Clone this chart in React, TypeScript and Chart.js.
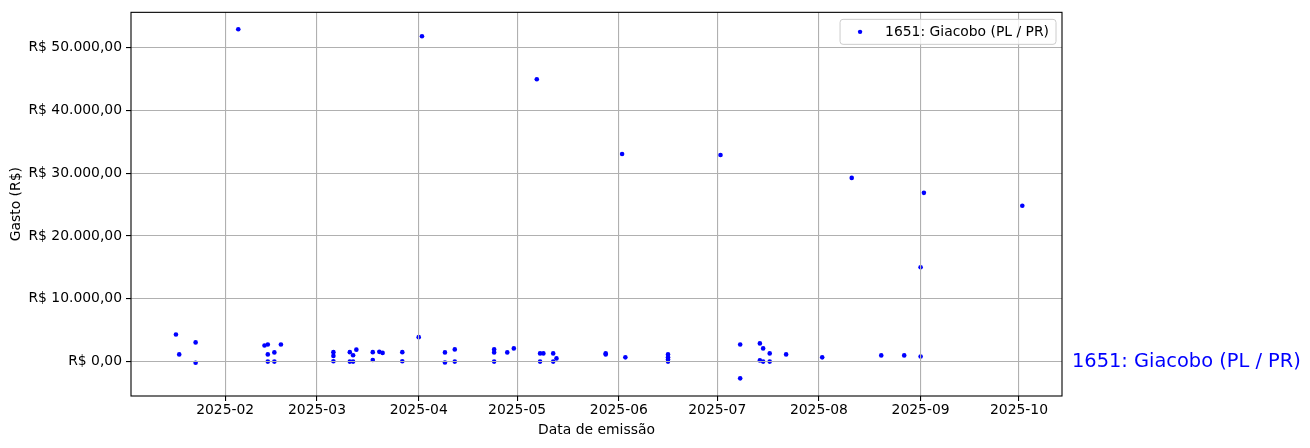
import React, { useEffect, useRef } from "react";
import { Chart, registerables } from "chart.js";

Chart.register(...registerables);

const seriesLabel = "1651: Giacobo (PL / PR)";
const xAxisTitle = "Data de emissão";
const yAxisTitle = "Gasto (R$)";

const emissionDates = [
  "2025-01-17", "2025-01-18", "2025-01-23", "2025-01-23", "2025-02-05",
  "2025-02-13", "2025-02-14", "2025-02-14", "2025-02-14", "2025-02-16",
  "2025-02-16", "2025-02-18", "2025-03-06", "2025-03-06", "2025-03-06",
  "2025-03-11", "2025-03-11", "2025-03-12", "2025-03-12", "2025-03-13",
  "2025-03-18", "2025-03-18", "2025-03-20", "2025-03-21", "2025-03-27",
  "2025-03-27", "2025-04-01", "2025-04-02", "2025-04-09", "2025-04-09",
  "2025-04-12", "2025-04-12", "2025-04-24", "2025-04-24", "2025-04-24",
  "2025-04-28", "2025-04-30", "2025-05-07", "2025-05-08", "2025-05-08",
  "2025-05-09", "2025-05-12", "2025-05-12", "2025-05-13", "2025-05-28",
  "2025-05-28", "2025-06-02", "2025-06-03", "2025-06-16", "2025-06-16",
  "2025-06-16", "2025-06-16", "2025-07-02", "2025-07-08", "2025-07-08",
  "2025-07-14", "2025-07-14", "2025-07-15", "2025-07-15", "2025-07-17",
  "2025-07-17", "2025-07-22", "2025-08-02", "2025-08-11", "2025-08-20",
  "2025-08-27", "2025-09-01", "2025-09-01", "2025-09-02", "2025-10-02",
];

const amounts = [
  4320, 1140, 3050, -190, 52880,
  2570, 2730, 1140, 0, 1460,
  0, 2730, 1500, 900, 50,
  1500, 0, 1000, 0, 1900,
  1500, 250, 1550, 1380, 1500,
  50, 3890, 51770, 1460, -150,
  1940, 0, 1940, 1460, 0,
  1460, 2100, 44940, 1300, 0,
  1300, 1300, 0, 510, 1300,
  1140, 33040, 670, 1140, 670,
  350, 0, 32880, 2730, -2670,
  2890, 190, 2100, 0, 1300,
  0, 1140, 670, 29230, 980,
  980, 820, 15000, 26850, 24790,
];

const xTickMonths = [
  "2025-02", "2025-03", "2025-04", "2025-05", "2025-06",
  "2025-07", "2025-08", "2025-09", "2025-10",
];
const yTickValues = [0, 10000, 20000, 30000, 40000, 50000];

const FONT = "'DejaVu Sans', sans-serif";
const FS = 13.9;
const DAY = 86400000;

const toDay = (s: string) => {
  const [y, m, d] = s.split("-").map(Number);
  return Date.UTC(y, m - 1, d || 1) / DAY;
};
const fmtMonth = (v: number) => new Date(Math.round(v) * DAY).toISOString().slice(0, 7);
const fmtBRL = (v: number) => {
  const neg = v < 0;
  const [i, f] = Math.abs(v).toFixed(2).split(".");
  const ii = i.replace(/\B(?=(\d{3})+(?!\d))/g, ".");
  return (neg ? "-" : "") + "R$ " + ii + "," + f;
};

const overlayPlugin = {
  id: "overlay",
  afterDraw(chart: any) {
    const { ctx, chartArea: a, scales } = chart;
    ctx.save();
    ctx.strokeStyle = "#000";
    ctx.lineWidth = 1.1;
    ctx.strokeRect(a.left, a.top, a.right - a.left, a.bottom - a.top);

    ctx.fillStyle = "#000";
    ctx.font = `${FS}px ${FONT}`;
    ctx.textAlign = "center";
    ctx.textBaseline = "middle";
    ctx.fillText(xAxisTitle, (a.left + a.right) / 2, 430);
    ctx.save();
    ctx.translate(16, (a.top + a.bottom) / 2);
    ctx.rotate(-Math.PI / 2);
    ctx.fillText(yAxisTitle, 0, 0);
    ctx.restore();

    ctx.fillStyle = "blue";
    ctx.font = `19.4px ${FONT}`;
    ctx.textAlign = "left";
    ctx.textBaseline = "middle";
    ctx.fillText(seriesLabel, a.right + 10, scales.y.getPixelForValue(0));

    ctx.font = `${FS}px ${FONT}`;
    const tw = ctx.measureText(seriesLabel).width;
    const bw = 45 + tw + 7;
    const bh = 25;
    const bx = a.right - 6 - bw;
    const by = a.top + 7;
    const r = 3;
    ctx.beginPath();
    ctx.moveTo(bx + r, by);
    ctx.lineTo(bx + bw - r, by);
    ctx.quadraticCurveTo(bx + bw, by, bx + bw, by + r);
    ctx.lineTo(bx + bw, by + bh - r);
    ctx.quadraticCurveTo(bx + bw, by + bh, bx + bw - r, by + bh);
    ctx.lineTo(bx + r, by + bh);
    ctx.quadraticCurveTo(bx, by + bh, bx, by + bh - r);
    ctx.lineTo(bx, by + r);
    ctx.quadraticCurveTo(bx, by, bx + r, by);
    ctx.closePath();
    ctx.fillStyle = "rgba(255,255,255,0.8)";
    ctx.fill();
    ctx.strokeStyle = "#cccccc";
    ctx.lineWidth = 1;
    ctx.stroke();
    ctx.fillStyle = "blue";
    ctx.beginPath();
    ctx.arc(bx + 20, by + bh / 2, 2.2, 0, Math.PI * 2);
    ctx.fill();
    ctx.fillStyle = "#000";
    ctx.textAlign = "left";
    ctx.fillText(seriesLabel, bx + 45, by + bh / 2 + 0.5);
    ctx.restore();
  },
};

export default function App() {
  const ref = useRef<HTMLCanvasElement | null>(null);

  useEffect(() => {
    if (!ref.current) return;
    const points = emissionDates.map((d, i) => ({ x: toDay(d), y: amounts[i] }));
    const xs = points.map((p) => p.x);
    const ys = points.map((p) => p.y);
    const xMin = Math.min(...xs), xMax = Math.max(...xs);
    const yMin = Math.min(...ys), yMax = Math.max(...ys);
    const xPad = (xMax - xMin) * 0.05;
    const yPad = (yMax - yMin) * 0.05;
    const xShift = 0.8;

    const chart = new Chart(ref.current, {
      type: "scatter",
      data: {
        datasets: [
          {
            label: seriesLabel,
            data: points,
            backgroundColor: "blue",
            borderColor: "blue",
            borderWidth: 0,
            pointRadius: 2.3,
            pointHoverRadius: 2.3,
          },
        ],
      },
      options: {
        animation: false,
        responsive: false,
        devicePixelRatio: 1,
        events: [],
        layout: { padding: { left: 0, right: 248, top: 10, bottom: 0 } },
        plugins: { legend: { display: false }, tooltip: { enabled: false } },
        scales: {
          x: {
            type: "linear",
            min: xMin - xPad - xShift,
            max: xMax + xPad - xShift,
            afterBuildTicks: (scale: any) => {
              scale.ticks = xTickMonths.map((m) => ({ value: toDay(m + "-01") }));
            },
            afterFit: (scale: any) => {
              scale.height = 52;
            },
            ticks: {
              autoSkip: false,
              maxRotation: 0,
              minRotation: 0,
              padding: 1,
              color: "#000",
              font: { family: FONT, size: FS },
              callback: (v: any) => fmtMonth(Number(v)),
            },
            grid: {
              color: "#b0b0b0",
              lineWidth: 1.1,
              tickColor: "#000",
              tickLength: 5,
              tickWidth: 1.1,
              z: 1,
            },
            border: { display: false },
          },
          y: {
            type: "linear",
            min: yMin - yPad - 30,
            max: yMax + yPad - 80,
            afterBuildTicks: (scale: any) => {
              scale.ticks = yTickValues.map((v) => ({ value: v }));
            },
            afterFit: (scale: any) => {
              scale.width = 131;
            },
            ticks: {
              padding: 4,
              color: "#000",
              font: { family: FONT, size: FS },
              callback: (v: any) => fmtBRL(Number(v)),
            },
            grid: {
              color: "#b0b0b0",
              lineWidth: 1.1,
              tickColor: "#000",
              tickLength: 5,
              tickWidth: 1.1,
              z: 1,
            },
            border: { display: false },
          },
        },
      },
      plugins: [overlayPlugin],
    } as any);

    return () => chart.destroy();
  }, []);

  return (
    <div style={{ position: "absolute", left: 0, top: 0, width: 1310, height: 448, background: "#fff" }}>
      <canvas ref={ref} width={1310} height={448} style={{ display: "block" }} />
    </div>
  );
}
